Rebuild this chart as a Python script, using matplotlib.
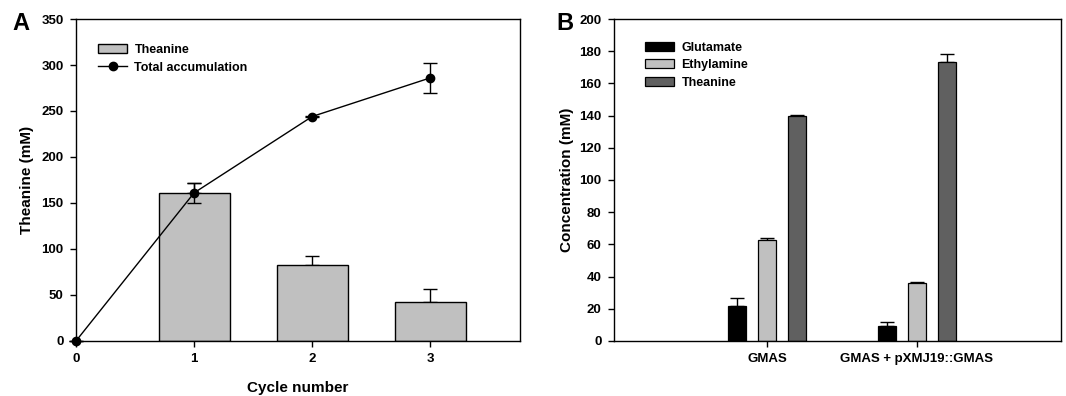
"""Theanine production cycles and concentration comparison."""
import matplotlib
import numpy as np

matplotlib.use("Agg")
from matplotlib import pyplot as plt
from matplotlib.lines import Line2D
from matplotlib.patches import Patch

plt.rcParams["font.family"] = ["Liberation Sans", "DejaVu Sans"]
plt.rcParams["font.weight"] = "bold"

# panel A
cycles = [0, 1, 2, 3]
bar_cycles = [1, 2, 3]
theanine_per_cycle = [161, 83, 42]
theanine_per_cycle_err = [11, 9, 14]
total_accumulation = [0, 161, 244, 286]
total_accumulation_err = [0, 11, 1, 16]

# panel B
strains = ["GMAS", "GMAS + pXMJ19::GMAS"]
compounds = ["Glutamate", "Ethylamine", "Theanine"]
concentration = {
    "Glutamate": [22, 9],
    "Ethylamine": [62.5, 36],
    "Theanine": [139.5, 173],
}
concentration_err = {
    "Glutamate": [4.5, 2.5],
    "Ethylamine": [1.5, 0.6],
    "Theanine": [0.6, 5.5],
}
compound_colors = {"Glutamate": "#000000", "Ethylamine": "#c0c0c0", "Theanine": "#606060"}

TICK_FS = 9.5
LABEL_FS = 11
LEGEND_FS = 9


def style_axes(ax):
    for side in ax.spines.values():
        side.set_linewidth(1.0)
    ax.tick_params(direction="out", length=4.5, width=1.0, labelsize=TICK_FS, pad=4.5)
    for lab in ax.get_xticklabels() + ax.get_yticklabels():
        lab.set_fontweight("bold")


fig = plt.figure(figsize=(10.66, 3.96), dpi=100)

# ---- A ----
ax_a = fig.add_axes([0.0713, 0.139, 0.4165, 0.813])
ax_a.bar(
    bar_cycles, theanine_per_cycle, width=0.6, color="#c0c0c0", edgecolor="black",
    linewidth=1.0, zorder=2,
)
ax_a.errorbar(
    bar_cycles, theanine_per_cycle, yerr=[np.zeros(3), theanine_per_cycle_err],
    fmt="none", ecolor="black", elinewidth=1.0, capsize=5, capthick=1.0, zorder=1,
)
ax_a.errorbar(
    cycles, total_accumulation, yerr=total_accumulation_err, color="black",
    marker="o", markersize=6, linewidth=1.0, elinewidth=1.0, capsize=5, capthick=1.0,
    zorder=3, clip_on=False,
)
ax_a.set_xlim(0, 3.76)
ax_a.set_ylim(0, 350)
ax_a.set_xticks(cycles)
ax_a.set_yticks(range(0, 351, 50))
ax_a.set_xlabel("Cycle number", fontsize=LABEL_FS, fontweight="bold", labelpad=11)
ax_a.set_ylabel("Theanine (mM)", fontsize=LABEL_FS, fontweight="bold", labelpad=5)
style_axes(ax_a)
legend_a = [
    Patch(facecolor="#c0c0c0", edgecolor="black", linewidth=1.0, label="Theanine"),
    Line2D([], [], color="black", marker="o", markersize=6, linewidth=1.0,
           label="Total accumulation"),
]
ax_a.legend(
    handles=legend_a, loc="upper left", bbox_to_anchor=(0.05, 0.922), frameon=False,
    fontsize=LEGEND_FS, handlelength=2.3, handleheight=0.75, labelspacing=0.45,
    handletextpad=0.6, borderaxespad=0, borderpad=0,
)
fig.text(0.012, 0.924, "A", fontsize=17, fontweight="bold")

# ---- B ----
ax_b = fig.add_axes([0.576, 0.139, 0.4193, 0.813])
x = np.arange(1, len(strains) + 1)
offsets = [-0.2, 0.0, 0.2]
for off, comp in zip(offsets, compounds):
    ax_b.bar(
        x + off, concentration[comp], width=0.125, color=compound_colors[comp],
        edgecolor="black", linewidth=0.9, label=comp, zorder=2,
    )
    ax_b.errorbar(
        x + off, concentration[comp], yerr=[np.zeros(len(strains)), concentration_err[comp]],
        fmt="none", ecolor="black", elinewidth=1.0, capsize=5, capthick=1.0, zorder=1,
    )
ax_b.set_xlim(-0.02, 2.96)
ax_b.set_ylim(0, 200)
ax_b.set_xticks(x)
ax_b.set_xticklabels(strains)
ax_b.set_yticks(range(0, 201, 20))
ax_b.set_ylabel("Concentration (mM)", fontsize=LABEL_FS, fontweight="bold", labelpad=4)
style_axes(ax_b)
ax_b.legend(
    loc="upper left", bbox_to_anchor=(0.07, 0.93), frameon=False,
    fontsize=LEGEND_FS, handlelength=2.3, handleheight=0.75, labelspacing=0.45,
    handletextpad=0.6, borderaxespad=0, borderpad=0,
)
fig.text(0.522, 0.924, "B", fontsize=17, fontweight="bold")

fig.savefig("out.png", dpi=100)
plt.close(fig)
